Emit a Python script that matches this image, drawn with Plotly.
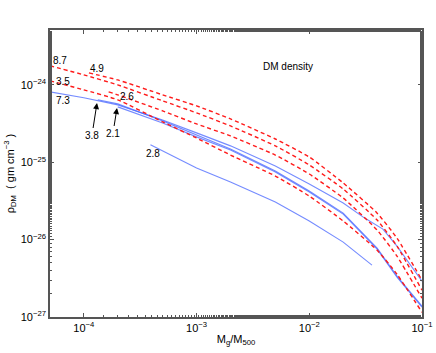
import plotly.graph_objects as go

# ---- data ----
red_labels = ["4.9", "8.7", "2.6", "3.5"]
red_x = [
    [1.11e-4, 2e-4, 5e-4, 1e-3, 2e-3, 5e-3, 1e-2, 2e-2, 4e-2, 6e-2, 0.1],
    [5e-5, 1e-4, 2e-4, 5e-4, 1e-3, 2e-3, 5e-3, 1e-2, 2e-2, 4e-2, 6e-2, 0.1],
    [1.66e-4, 2e-4, 5e-4, 1e-3, 2e-3, 5e-3, 1e-2, 2e-2, 4e-2, 6e-2, 0.1],
    [5e-5, 1e-4, 2e-4, 5e-4, 1e-3, 2e-3, 5e-3, 1e-2, 2e-2, 4e-2, 6e-2, 0.1],
]
red_y = [
    [1.43e-24, 1.16e-24, 7.44e-25, 5.36e-25, 3.64e-25, 2.00e-25, 1.17e-25, 5.40e-26, 2.20e-26, 1.045e-26, 2.99e-27],
    [1.77e-24, 1.35e-24, 1.00e-24, 6.23e-25, 4.35e-25, 2.95e-25, 1.63e-25, 9.23e-26, 4.51e-26, 1.79e-26, 8.24e-27, 2.22e-27],
    [8.14e-25, 7.44e-25, 4.62e-25, 3.13e-25, 2.19e-25, 1.24e-25, 7.05e-26, 3.45e-26, 1.33e-26, 6.11e-27, 1.75e-27],
    [1.13e-24, 8.64e-25, 6.42e-25, 3.33e-25, 2.06e-25, 1.24e-25, 6.64e-26, 3.66e-26, 1.74e-26, 7.31e-27, 3.57e-27, 1.15e-27],
]

blue_labels = ["7.3", "3.8", "2.1", "2.8"]
blue_x = [
    [5e-5, 1e-4, 2e-4, 5e-4, 1e-3, 2e-3, 5e-3, 1e-2, 2e-2, 3.1e-2, 4.5e-2, 6e-2, 0.1],
    [1.33e-4, 2e-4, 5e-4, 1e-3, 2e-3, 5e-3, 1e-2, 2e-2, 4e-2, 6e-2, 0.1],
    [2e-4, 5e-4, 1e-3, 2e-3, 5e-3, 1e-2, 2e-2, 4e-2, 6e-2, 0.1],
    [3.9e-4, 1e-3, 2e-3, 5e-3, 1e-2, 2e-2, 3.6e-2],
]
blue_y = [
    [8.14e-25, 6.81e-25, 5.52e-25, 3.53e-25, 2.40e-25, 1.63e-25, 8.95e-26, 5.24e-26, 2.97e-26, 1.90e-26, 1.37e-26, 8.24e-27, 2.90e-27],
    [6.42e-25, 5.69e-25, 3.43e-25, 2.26e-25, 1.49e-25, 7.71e-26, 4.25e-26, 2.20e-26, 7.76e-27, 3.37e-27, 1.38e-27],
    [5.20e-25, 3.23e-25, 2.13e-25, 1.44e-25, 7.48e-26, 4.12e-26, 2.14e-26, 7.53e-27, 3.27e-27, 1.34e-27],
    [1.68e-25, 8.44e-26, 5.56e-26, 3.06e-26, 1.74e-26, 9.29e-27, 4.68e-27],
]

x_ticks = [1e-4, 1e-3, 1e-2, 1e-1]
x_ticktext = ["10<sup>−4</sup>", "10<sup>−3</sup>", "10<sup>−2</sup>", "10<sup>−1</sup>"]
y_ticks = [1e-27, 1e-26, 1e-25, 1e-24]
y_ticktext = ["10<sup>−27</sup>", "10<sup>−26</sup>", "10<sup>−25</sup>", "10<sup>−24</sup>"]

FONT = "Liberation Sans, Arial, Helvetica, sans-serif"

fig = go.Figure()
for xs, ys, lab in zip(blue_x, blue_y, blue_labels):
    fig.add_trace(go.Scatter(x=xs, y=ys, mode="lines", name=lab,
                             line=dict(color="rgba(70,100,255,0.75)", width=1.1)))
for xs, ys, lab in zip(red_x, red_y, red_labels):
    fig.add_trace(go.Scatter(x=xs, y=ys, mode="lines", name=lab,
                             line=dict(color="#ff1a1a", width=1.4, dash="4px,3px",
                                       shape="spline", smoothing=0.5)))

L, R, T, B = 50, 14, 30, 36
W, H = 436, 353
pw, ph = W - L - R, H - T - B

def px(xp, yp):
    return (xp - L) / pw, (H - B - yp) / ph

def label(text, xp, yp, size=10):
    x, y = px(xp, yp)
    fig.add_annotation(x=x, y=y, xref="paper", yref="paper", text=text,
                       xanchor="center", yanchor="middle",
                       showarrow=False, font=dict(size=size, color="black", family=FONT))

label("8.7", 60, 60)
label("4.9", 97, 68)
label("3.5", 63, 82)
label("7.3", 63, 101)
label("2.6", 127, 96)
label("2.8", 153, 153)
label("DM density", 288, 66)

for text, tx, ty, hx, hy in [("3.8", 92, 135, 97, 103), ("2.1", 113, 133, 117, 108)]:
    x, y = px(hx, hy)
    fig.add_annotation(x=x, y=y, xref="paper", yref="paper", text=text,
                       showarrow=True, ax=tx - hx, ay=ty - hy,
                       arrowhead=2, arrowsize=1.2, arrowwidth=1, arrowcolor="black",
                       font=dict(size=10, color="black", family=FONT))

axis_common = dict(
    type="log", showgrid=False, zeroline=False, showline=True, linecolor="#555555",
    linewidth=1.5, mirror="ticks", ticks="inside", ticklen=4, tickcolor="#555555",
    tickfont=dict(size=11, color="black", family=FONT), automargin=False,
    minor=dict(ticks="inside", ticklen=2, tickcolor="#555555", showgrid=False),
)

fig.update_layout(
    width=W, height=H, margin=dict(l=L, r=R, t=T, b=B),
    paper_bgcolor="white", plot_bgcolor="white", showlegend=False,
    font=dict(family=FONT, color="black"),
)
fig.update_xaxes(range=[-4.3, -1], tickvals=x_ticks, ticktext=x_ticktext,
                 title=dict(text="M<sub>g</sub>/M<sub>500</sub>", font=dict(size=11), standoff=2),
                 **axis_common)
fig.update_yaxes(range=[-27, -23.29], tickvals=y_ticks, ticktext=y_ticktext,
                 title=dict(text="ρ<sub>DM</sub>  ( gm cm<sup>−3</sup> )", font=dict(size=11), standoff=4),
                 **axis_common)

fig.write_html("out.html", config={"displayModeBar": False},
               post_script="document.body.style.margin='0';document.body.style.overflow='hidden';")
